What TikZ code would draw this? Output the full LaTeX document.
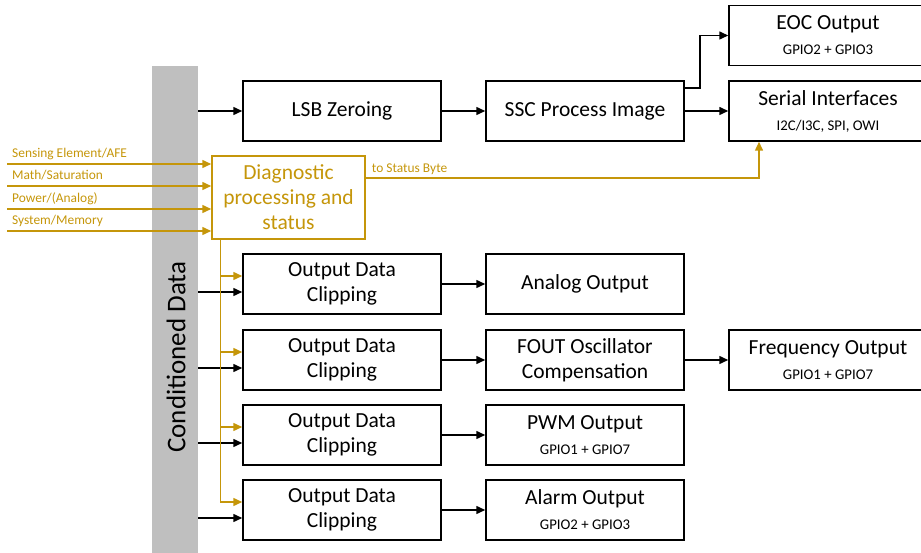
\documentclass[tikz,border=0pt]{standalone}
\usepackage{fontspec}
\setmainfont{Carlito}
\usetikzlibrary{arrows.meta}

\definecolor{diaggold}{RGB}{197,150,10}
\definecolor{bargrey}{RGB}{191,191,191}
\newcommand{\bigtxt}{\fontsize{21.5}{25}\selectfont}
\newcommand{\smalltxt}{\fontsize{14.8}{17}\selectfont}
\newcommand{\tinytxt}{\fontsize{13.4}{15}\selectfont}

\tikzset{
    block/.style={draw, line width=1.5pt, fill=white, minimum width=198pt,
        minimum height=60pt, inner sep=0pt, align=center, font=\bigtxt},
    diagbox/.style={block, draw=diaggold, text=diaggold,
        minimum width=153pt, minimum height=83pt},
    flow/.style={line width=1.5pt, -{Triangle[length=9pt,width=8pt]}},
    goldflow/.style={flow, draw=diaggold},
    goldline/.style={line width=1.5pt, draw=diaggold},
    inlabel/.style={font=\tinytxt, text=diaggold, anchor=base west, inner sep=0pt}
}

\begin{document}
\begin{tikzpicture}[x=1pt,y=-1pt]
    \useasboundingbox (0,0) rectangle (921,553);
    \clip (0,0) rectangle (921,553);

    % draw grey data bar
    \node[fill=bargrey, minimum width=46pt, minimum height=492pt, inner sep=0pt]
        (bar) at (175,312) {};
    \node[rotate=90, font=\fontsize{27}{30}\selectfont] (bartxt) at (176,357)
        {Conditioned Data};

    % draw top row
    \node[block] (lsb) at (342,111) {LSB Zeroing};
    \node[block] (ssc) at (585,111) {SSC Process Image};
    \node[block] (eoc) at (828,35.5) {EOC Output\\{\smalltxt GPIO2 + GPIO3}};
    \node[block] (serial) at (828,111) {Serial Interfaces\\{\smalltxt I2C/I3C, SPI, OWI}};

    % draw output rows
    \foreach \n/\y in {1/284, 2/360, 3/435, 4/510}
        \node[block] (clip\n) at (342,\y) {Output Data\\Clipping};

    \node[block] (analog) at (585,284) {Analog Output};
    \node[block] (fout) at (585,360) {FOUT Oscillator\\Compensation};
    \node[block] (freq) at (828,360) {Frequency Output\\{\smalltxt GPIO1 + GPIO7}};
    \node[block] (pwm) at (585,435) {PWM Output\\{\smalltxt GPIO1 + GPIO7}};
    \node[block] (alarm) at (585,510) {Alarm Output\\{\smalltxt GPIO2 + GPIO3}};

    % draw diagnostic block
    \node[diagbox] (diag) at (288.5,197.5) {Diagnostic\\processing and\\status};

    % draw data flow
    \draw[flow] (bar.east |- lsb.west) -- (lsb.west);
    \draw[flow] (lsb) -- (ssc);
    \draw[flow] (ssc) -- (serial);
    \draw[flow] ([yshift=23pt]ssc.east) -- ++(15,0) |- (eoc.west);
    \foreach \n in {1, 2, ..., 4}
        \draw[flow] ([yshift=-8pt]clip\n.west -| bar.east) -- ([yshift=-8pt]clip\n.west);
    \draw[flow] (clip1) -- (analog);
    \draw[flow] (clip2) -- (fout);
    \draw[flow] (fout) -- (freq);
    \draw[flow] (clip3) -- (pwm);
    \draw[flow] (clip4) -- (alarm);

    % draw diagnostic inputs
    \coordinate (in1) at (7,164);
    \coordinate (in2) at (7,186);
    \coordinate (in3) at (7,209);
    \coordinate (in4) at (7,231);
    \foreach \i in {1, 2, ..., 4}
        \draw[goldflow] (in\i) -- (in\i -| diag.west);
    \node[inlabel] (lbl1) at ([shift={(5,-6)}]in1) {Sensing Element/AFE};
    \node[inlabel] (lbl2) at ([shift={(5,-6)}]in2) {Math/Saturation};
    \node[inlabel] (lbl3) at ([shift={(5,-6)}]in3) {Power/(Analog)};
    \node[inlabel] (lbl4) at ([shift={(5,-6)}]in4) {System/Memory};

    % draw status output
    \coordinate (stat) at (759,178);
    \draw[goldflow] (diag.east |- stat) -- (stat) -- (stat |- serial.south);
    \node[inlabel] (statlbl) at ([shift={(6,-5)}]diag.east |- stat) {to Status Byte};

    % draw diagnostic to clipping
    \coordinate (gtop) at ([xshift=9pt]diag.south west);
    \draw[goldline] (gtop) -- ([yshift=8pt]clip4.west -| gtop);
    \foreach \n in {1, 2, ..., 4}
        \draw[goldflow] ([yshift=8pt]clip\n.west -| gtop) -- ([yshift=8pt]clip\n.west);
\end{tikzpicture}
\end{document}
